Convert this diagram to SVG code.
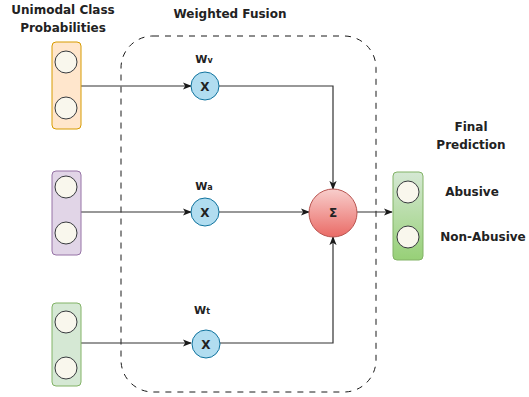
<svg xmlns="http://www.w3.org/2000/svg" width="529" height="397" viewBox="0 0 529 397">
<defs>
<marker id="arr" viewBox="0 0 10 10" refX="9" refY="5" markerWidth="9" markerHeight="9" markerUnits="userSpaceOnUse" orient="auto">
<path d="M0,1 L10,5 L0,9 L2.5,5 Z" fill="#1a1a1a"/>
</marker>
<linearGradient id="gOut" x1="0" y1="0" x2="0" y2="1">
<stop offset="0" stop-color="#d5e8d4"/>
<stop offset="1" stop-color="#97d077"/>
</linearGradient>
<linearGradient id="gSig" x1="0" y1="0" x2="0" y2="1">
<stop offset="0" stop-color="#f8cecc"/>
<stop offset="1" stop-color="#ea6b66"/>
</linearGradient>
</defs>
<style>
text{font-family:"DejaVu Sans",Verdana,sans-serif;font-weight:bold;fill:#222;text-anchor:middle}
.t{font-size:12px}
.w{font-size:11px}
.dot{fill:#f9f7ed;stroke:#36393d;stroke-width:1}
.mul{fill:#b1ddf0;stroke:#10739e;stroke-width:1}
.edge{fill:none;stroke:#333;stroke-width:1.2;marker-end:url(#arr)}
</style>
<rect width="529" height="397" fill="#fff"/>
<g id="fusion">
<rect x="121" y="36" width="255" height="356" rx="32" ry="32" fill="none" stroke="#1a1a1a" stroke-width="1" stroke-dasharray="6 6"/>
<text class="t" x="230" y="18">Weighted Fusion</text>
</g>
<g id="title-left">
<text class="t" x="63" y="14">Unimodal Class</text>
<text class="t" x="63" y="32">Probabilities</text>
</g>
<g id="connectors">
<path class="edge" d="M81,86 L191,86"/>
<path class="edge" d="M81,212 L191,212"/>
<path class="edge" d="M81,343 L191,343"/>
<path class="edge" d="M219,86 L333,86 L333,189"/>
<path class="edge" d="M219,212 L309,212"/>
<path class="edge" d="M220,343 L333,343 L333,237"/>
<path class="edge" d="M357,212 L392,212"/>
</g>
<g id="visual">
<rect x="52" y="42" width="29" height="87" rx="4" fill="#ffe6cc" stroke="#d79b00"/>
<circle class="dot" cx="66" cy="62" r="11"/>
<circle class="dot" cx="66" cy="108" r="11"/>
</g>
<g id="audio">
<rect x="52" y="171" width="29" height="84" rx="4" fill="#e1d5e7" stroke="#9673a6"/>
<circle class="dot" cx="66" cy="187" r="11"/>
<circle class="dot" cx="66" cy="233" r="11"/>
</g>
<g id="text">
<rect x="52" y="303" width="29" height="83" rx="4" fill="#d5e8d4" stroke="#82b366"/>
<circle class="dot" cx="66" cy="322" r="11"/>
<circle class="dot" cx="66" cy="368" r="11"/>
</g>
<g id="mul-v">
<circle class="mul" cx="205" cy="86" r="14"/>
<text class="t" x="205" y="90.5">X</text>
<text class="w" x="204" y="63">W<tspan font-size="8">v</tspan></text>
</g>
<g id="mul-a">
<circle class="mul" cx="205" cy="212" r="14"/>
<text class="t" x="205" y="216.5">X</text>
<text class="w" x="204" y="190">W<tspan font-size="8">a</tspan></text>
</g>
<g id="mul-t">
<circle class="mul" cx="206" cy="344" r="14"/>
<text class="t" x="206" y="348.5">X</text>
<text class="w" x="202" y="314">W<tspan font-size="8">t</tspan></text>
</g>
<g id="sum">
<circle cx="333" cy="213" r="24" fill="url(#gSig)" stroke="#b85450"/>
<text class="t" x="333" y="217">Σ</text>
</g>
<g id="output">
<rect x="393" y="172" width="30" height="88" rx="4" fill="url(#gOut)" stroke="#82b366"/>
<circle class="dot" cx="408" cy="192" r="11"/>
<circle class="dot" cx="408" cy="237" r="11"/>
<text class="t" x="471" y="131">Final</text>
<text class="t" x="471" y="149">Prediction</text>
<text class="t" x="472" y="196">Abusive</text>
<text class="t" x="483" y="241">Non-Abusive</text>
</g>
</svg>
